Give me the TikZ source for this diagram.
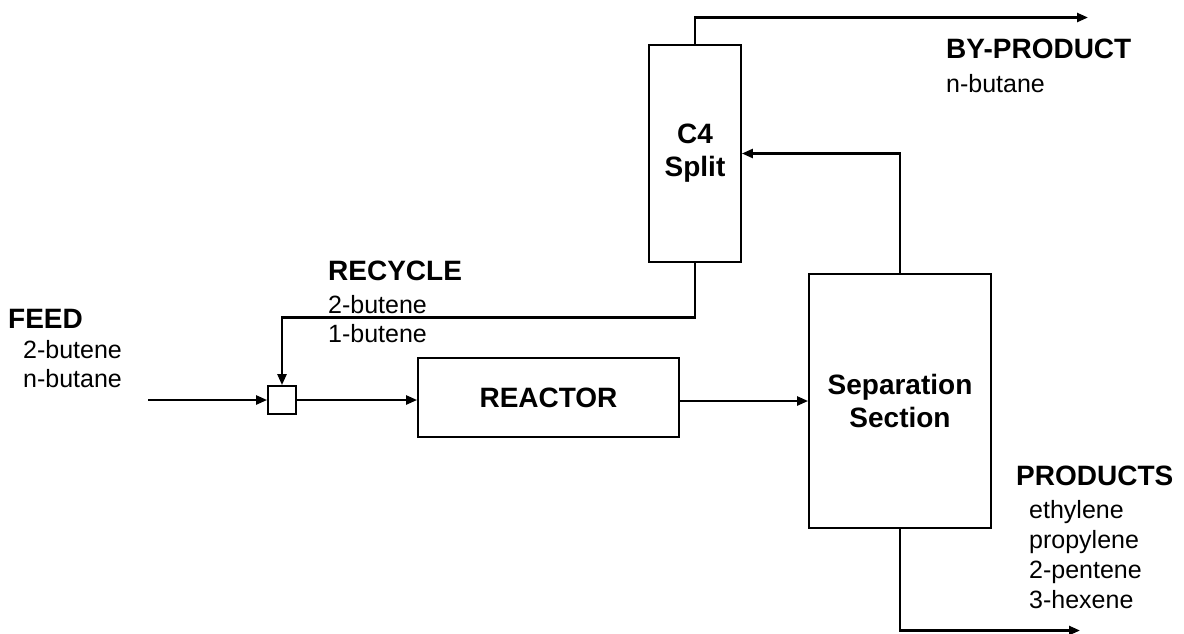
\documentclass[tikz,border=0pt]{standalone}
\usepackage{fontspec}
\setmainfont{Liberation Sans}
\usetikzlibrary{arrows.meta,calc}
\tikzset{
  unit/.style={draw, line width=1.8pt, inner sep=0pt, font=\fontsize{28}{33}\selectfont\bfseries, align=center},
  flow/.style={line width=2.4pt, -{Triangle[length=11pt,width=9pt]}},
  head/.style={anchor=base west, inner sep=0pt, font=\fontsize{28}{33}\selectfont\bfseries},
  item/.style={anchor=base west, inner sep=0pt, font=\fontsize{25}{30}\selectfont},
}
\begin{document}
\begin{tikzpicture}[x=1pt,y=-1pt]
\useasboundingbox (0,0) rectangle (1184,633);
% units
\node[unit, minimum width=92pt, minimum height=217pt] (c4) at (695,153.5) {C4\\Split};
\node[unit, minimum width=182pt, minimum height=254pt] (sep) at (900,401) {Separation\\Section};
\node[unit, minimum width=261pt, minimum height=79pt] (reactor) at (548.5,397.5) {REACTOR};
\node[draw, line width=1.8pt, minimum size=28pt, inner sep=0pt] (mix) at (282,400) {};
% free ends
\coordinate (feedin) at (148,400);
\coordinate (byend) at (1088,17.5);
\coordinate (prodend) at (1080,630.5);
\coordinate (rc) at (282,317.5);
% connectors
\draw[flow] (feedin) -- (mix.west);
\draw[flow] (mix.east) -- (mix.east -| reactor.west);
\draw[flow] (reactor.east |- sep.west) -- (sep.west);
\draw[flow] (sep.north) |- (c4.east);
\draw[flow] (c4.north) |- (byend);
\draw[flow] (sep.south) |- (prodend);
\draw[flow] (c4.south) |- (rc) -- (mix.north);
% labels
\node[head] (feedh) at (8,328) {FEED};
\node[item] (feed1) at (23,358) {2-butene};
\node[item] (feed2) at (23,387) {n-butane};
\node[head] (rech) at (328,280) {RECYCLE};
\node[item] (rec1) at (328,313) {2-butene};
\node[item] (rec2) at (328,342) {1-butene};
\node[head] (byh) at (946,58) {BY-PRODUCT};
\node[item] (by1) at (946,92) {n-butane};
\node[head] (prodh) at (1016,485) {PRODUCTS};
\node[item] (prod1) at (1029,518) {ethylene};
\node[item] (prod2) at (1029,548) {propylene};
\node[item] (prod3) at (1029,578) {2-pentene};
\node[item] (prod4) at (1029,608) {3-hexene};
\end{tikzpicture}
\end{document}
